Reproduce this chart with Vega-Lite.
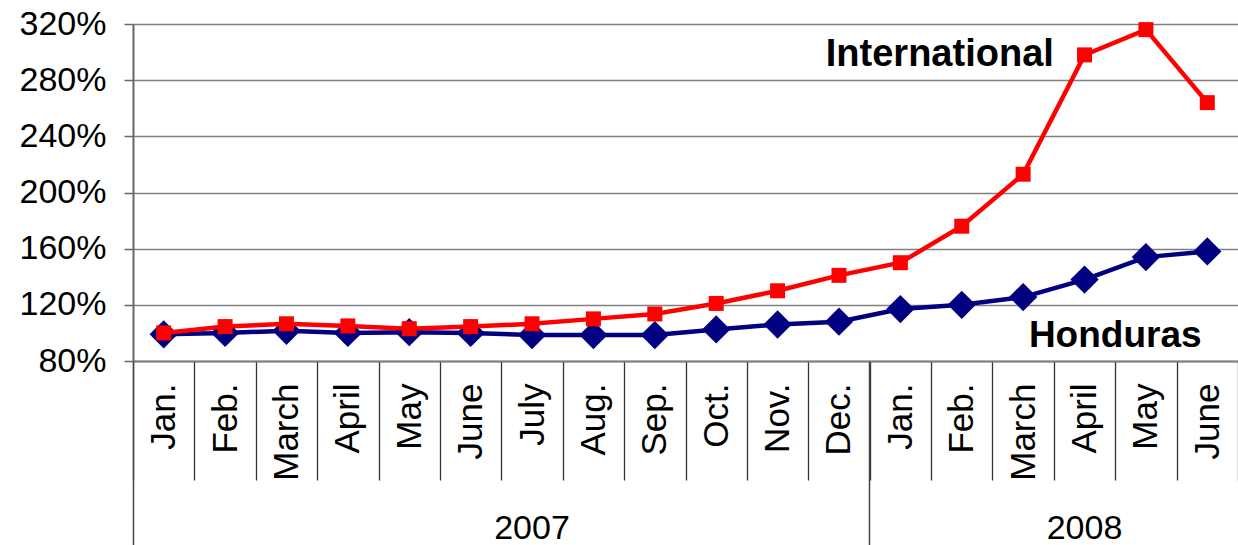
{
  "$schema": "https://vega.github.io/schema/vega-lite/v6.json",
  "width": 1105,
  "height": 337,
  "autosize": {"type": "none"},
  "padding": {"left": 133, "top": 24, "right": 0, "bottom": 184},
  "background": "white",
  "config": {
    "view": {"stroke": null},
    "font": "Liberation Sans",
    "axis": {"labelFont": "Liberation Sans", "labelColor": "black"}
  },
  "datasets": {
    "prices": [
      {"period": "Jan. 2007", "series": "Honduras", "value": 99},
      {"period": "Feb. 2007", "series": "Honduras", "value": 100},
      {"period": "March 2007", "series": "Honduras", "value": 101.5},
      {"period": "April 2007", "series": "Honduras", "value": 100},
      {"period": "May 2007", "series": "Honduras", "value": 100.5},
      {"period": "June 2007", "series": "Honduras", "value": 100},
      {"period": "July 2007", "series": "Honduras", "value": 98.5},
      {"period": "Aug. 2007", "series": "Honduras", "value": 98.5},
      {"period": "Sep. 2007", "series": "Honduras", "value": 98.5},
      {"period": "Oct. 2007", "series": "Honduras", "value": 102.5},
      {"period": "Nov. 2007", "series": "Honduras", "value": 106},
      {"period": "Dec. 2007", "series": "Honduras", "value": 108},
      {"period": "Jan. 2008", "series": "Honduras", "value": 117},
      {"period": "Feb. 2008", "series": "Honduras", "value": 120},
      {"period": "March 2008", "series": "Honduras", "value": 125.5},
      {"period": "April 2008", "series": "Honduras", "value": 138},
      {"period": "May 2008", "series": "Honduras", "value": 154},
      {"period": "June 2008", "series": "Honduras", "value": 158},
      {"period": "Jan. 2007", "series": "International", "value": 100},
      {"period": "Feb. 2007", "series": "International", "value": 104.5},
      {"period": "March 2007", "series": "International", "value": 106.5},
      {"period": "April 2007", "series": "International", "value": 105},
      {"period": "May 2007", "series": "International", "value": 103},
      {"period": "June 2007", "series": "International", "value": 104.5},
      {"period": "July 2007", "series": "International", "value": 106.5},
      {"period": "Aug. 2007", "series": "International", "value": 110},
      {"period": "Sep. 2007", "series": "International", "value": 113.5},
      {"period": "Oct. 2007", "series": "International", "value": 121},
      {"period": "Nov. 2007", "series": "International", "value": 130},
      {"period": "Dec. 2007", "series": "International", "value": 141},
      {"period": "Jan. 2008", "series": "International", "value": 150},
      {"period": "Feb. 2008", "series": "International", "value": 176},
      {"period": "March 2008", "series": "International", "value": 213},
      {"period": "April 2008", "series": "International", "value": 298},
      {"period": "May 2008", "series": "International", "value": 316},
      {"period": "June 2008", "series": "International", "value": 264}
    ],
    "labels": [
      {"period": "April 2008", "value": 290, "text": "International"},
      {"period": "May 2008", "value": 90, "text": "Honduras"}
    ]
  },
  "layer": [
    {
      "data": {"name": "prices"},
      "transform": [{"filter": "datum.series == 'Honduras'"}],
      "mark": {
        "type": "line",
        "color": "#000080",
        "strokeWidth": 4.5,
        "point": {"shape": "diamond", "size": 800, "color": "#000080", "filled": true, "opacity": 1}
      },
      "encoding": {
        "x": {
          "field": "period",
          "type": "nominal",
          "bandPosition": 0.5,
          "scale": {
            "type": "band",
            "paddingInner": 0,
            "paddingOuter": 0,
            "domain": ["Jan. 2007", "Feb. 2007", "March 2007", "April 2007", "May 2007", "June 2007", "July 2007", "Aug. 2007", "Sep. 2007", "Oct. 2007", "Nov. 2007", "Dec. 2007", "Jan. 2008", "Feb. 2008", "March 2008", "April 2008", "May 2008", "June 2008"]
          },
          "axis": {
            "orient": "bottom",
            "title": null,
            "labelExpr": "isString(datum.value) ? split(datum.value, ' ')[0] : ''",
            "labelAngle": 270,
            "labelFontSize": 35,
            "labelPadding": -97,
            "labelOverlap": false,
            "labelBound": false,
            "labelFlush": false,
            "tickBand": "extent",
            "tickSize": 119,
            "tickColor": "#333333",
            "tickWidth": 1.3,
            "domain": true,
            "domainColor": "#808080",
            "domainWidth": 2,
            "grid": false
          }
        },
        "y": {
          "field": "value",
          "type": "quantitative",
          "scale": {"domain": [80, 320], "nice": false, "zero": false},
          "axis": {
            "title": null,
            "values": [80, 120, 160, 200, 240, 280, 320],
            "labelExpr": "datum.value + '%'",
            "labelFontSize": 34,
            "labelPadding": 18,
            "tickSize": 9,
            "tickColor": "#666666",
            "tickWidth": 1.5,
            "domainColor": "#666666",
            "domainWidth": 2,
            "grid": true,
            "gridColor": "#808080",
            "gridWidth": 1.5
          }
        }
      }
    },
    {
      "data": {"name": "prices"},
      "transform": [{"filter": "datum.series == 'International'"}],
      "mark": {
        "type": "line",
        "color": "#FF0000",
        "strokeWidth": 4.5,
        "point": {"shape": "square", "size": 225, "color": "#FF0000", "filled": true, "opacity": 1}
      },
      "encoding": {
        "x": {
          "field": "period",
          "type": "nominal",
          "bandPosition": 0.5,
          "axis": {
            "orient": "bottom",
            "title": null,
            "bandPosition": 0,
            "labelExpr": "datum.value == 'July 2007' ? '2007' : datum.value == 'April 2008' ? '2008' : ''",
            "labelAngle": 0,
            "labelAlign": "center",
            "labelBaseline": "alphabetic",
            "labelFontSize": 34,
            "labelPadding": -7,
            "labelOverlap": false,
            "labelBound": false,
            "labelFlush": false,
            "tickSize": 184,
            "tickColor": "#444444",
            "tickWidth": 1.5,
            "tickOpacity": {
              "condition": {"test": "datum.value == 'Jan. 2007' || datum.value == 'Jan. 2008'", "value": 1},
              "value": 0
            },
            "domain": false,
            "grid": false
          }
        },
        "y": {"field": "value", "type": "quantitative"}
      }
    },
    {
      "data": {"name": "labels"},
      "transform": [{"filter": "datum.text == 'International'"}],
      "mark": {"type": "text", "font": "Liberation Sans", "fontWeight": "bold", "fontSize": 38, "color": "black", "align": "right", "baseline": "alphabetic"},
      "encoding": {
        "x": {"field": "period", "type": "nominal", "bandPosition": 0, "axis": null},
        "y": {"field": "value", "type": "quantitative"},
        "text": {"field": "text"}
      }
    },
    {
      "data": {"name": "labels"},
      "transform": [{"filter": "datum.text == 'Honduras'"}],
      "mark": {"type": "text", "font": "Liberation Sans", "fontWeight": "bold", "fontSize": 37, "color": "black", "align": "center", "baseline": "alphabetic"},
      "encoding": {
        "x": {"field": "period", "type": "nominal", "bandPosition": 0, "axis": null},
        "y": {"field": "value", "type": "quantitative"},
        "text": {"field": "text"}
      }
    }
  ],
  "resolve": {"axis": {"x": "independent"}}
}
